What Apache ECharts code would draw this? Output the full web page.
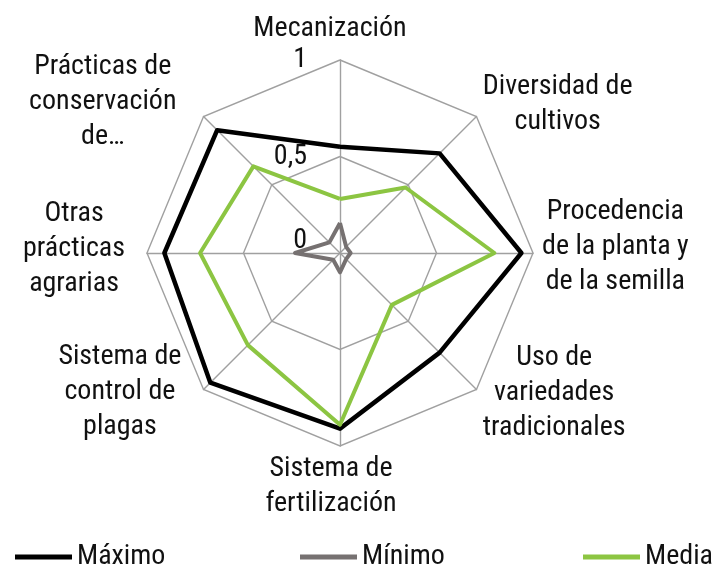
<!DOCTYPE html>
<html><head><meta charset="utf-8">
<script src="https://cdn.jsdelivr.net/npm/echarts@6/dist/echarts.min.js"></script>
<style>html,body{margin:0;padding:0;background:#fff}#c{width:720px;height:568px}</style>
</head><body><div id="c"></div>
<script>
// Data (clockwise from top, as read in the reference)
const categories = ['Mecanización', 'Diversidad de\ncultivos', 'Procedencia\nde la planta y\nde la semilla', 'Uso de\nvariedades\ntradicionales', 'Sistema de\nfertilización', 'Sistema de\ncontrol de\nplagas', 'Otras\nprácticas\nagrarias', 'Prácticas de\nconservación\nde…'];
const maximo = [0.55, 0.73, 0.94, 0.73, 0.91, 0.95, 0.91, 0.90];
const minimo = [0.155, 0.045, 0.055, 0.045, 0.10, 0.05, 0.233, 0.078];
const media  = [0.28, 0.48, 0.80, 0.38, 0.89, 0.675, 0.725, 0.635];
const seriesNames = ['Máximo', 'Mínimo', 'Media'];
const tickLabels = ['0', '0,5', '1'];

// Pick the narrowest installed condensed font
function hasFont(f) {
  const c = document.createElement('canvas').getContext('2d');
  const s = 'Mecanización abcdefghij';
  return ['monospace', 'serif'].every(fb => {
    c.font = '40px ' + fb; const w0 = c.measureText(s).width;
    c.font = '40px "' + f + '", ' + fb; return c.measureText(s).width !== w0;
  });
}
const candidates = [['Liberation Sans Narrow', 28], ['Roboto Condensed', 28], ['Arial Narrow', 28], ['DejaVu Sans Condensed', 25]];
let pickF = candidates[candidates.length - 1];
for (const c of candidates) { if (hasFont(c[0])) { pickF = c; break; } }
const FONT = '"' + pickF[0] + '", sans-serif';
const FS = pickF[1];
const TXT = '#111111';
const colors = ['#000000', '#767171', '#8cc542'];
const widths = [4.5, 4, 4];
const nameLayout = [
  { gap: 14, pad: [0, 20, 0, 0] },
  { gap: 9, pad: [0, 0, 12, 0] },
  { gap: 9, pad: [0, 0, 12, 0] },
  { gap: 9, pad: [0, 0, 6, 0] },
  { gap: 5, pad: [0, 18, 0, 0] },
  { gap: 10, pad: [0, 15, 10, 0] },
  { gap: 22, pad: [0, 0, 8, 0] },
  { gap: 10, pad: [0, 20, 14, 0] }
];
// ECharts places indicators counter-clockwise; reorder so the picture reads clockwise
const order = [0, 7, 6, 5, 4, 3, 2, 1];
const pick = arr => order.map(i => arr[i]);

const indicator = order.map((i, k) => {
  const ind = { name: categories[i], min: 0, max: 1, nameGap: nameLayout[i].gap,
    nameTextStyle: { padding: nameLayout[i].pad } };
  if (k === 0) {
    ind.axisLabel = { show: true, margin: 33, fontSize: FS, fontFamily: FONT, color: TXT,
      formatter: v => { const t = tickLabels[Math.round(v * 2)]; return v === 0 ? '{z|' + t + '}' : t; },
      rich: { z: { fontSize: FS, fontFamily: FONT, color: TXT, padding: [0, 0, 24, 0] } } };
  }
  return ind;
});

const chart = echarts.init(document.getElementById('c'), null, { renderer: 'canvas' });
chart.setOption({
  animation: false,
  backgroundColor: '#ffffff',
  legend: seriesNames.map((n, i) => ({
    data: [n], left: [15, 300, 583][i], top: 540, icon: 'rect', itemWidth: 57, itemHeight: 5,
    itemGap: 0, padding: 0,
    textStyle: { fontSize: FS, fontFamily: FONT, color: TXT, lineHeight: 34 }
  })),
  radar: {
    center: [340, 253],
    radius: 193,
    shape: 'polygon',
    splitNumber: 2,
    indicator: indicator,
    axisName: {
      color: TXT, fontSize: FS, fontFamily: FONT,
      formatter: name => name.split('\n').map(s => '{c|' + s + '}').join('\n'),
      rich: { c: { align: 'center', fontSize: FS, lineHeight: 35, fontFamily: FONT, color: TXT } }
    },
    axisLine: { show: true, lineStyle: { color: '#a0a0a0', width: 1.4 } },
    splitLine: { show: true, lineStyle: { color: '#a0a0a0', width: 1.4 } },
    splitArea: { show: false },
    axisTick: { show: false },
    axisLabel: { show: false }
  },
  series: seriesNames.map((n, i) => ({
    type: 'radar',
    symbol: 'none',
    z: 2 + i,
    data: [{
      name: n,
      value: pick([maximo, minimo, media][i]),
      lineStyle: { color: colors[i], width: widths[i] },
      itemStyle: { color: colors[i] }
    }]
  }))
});
</script>
</body></html>
